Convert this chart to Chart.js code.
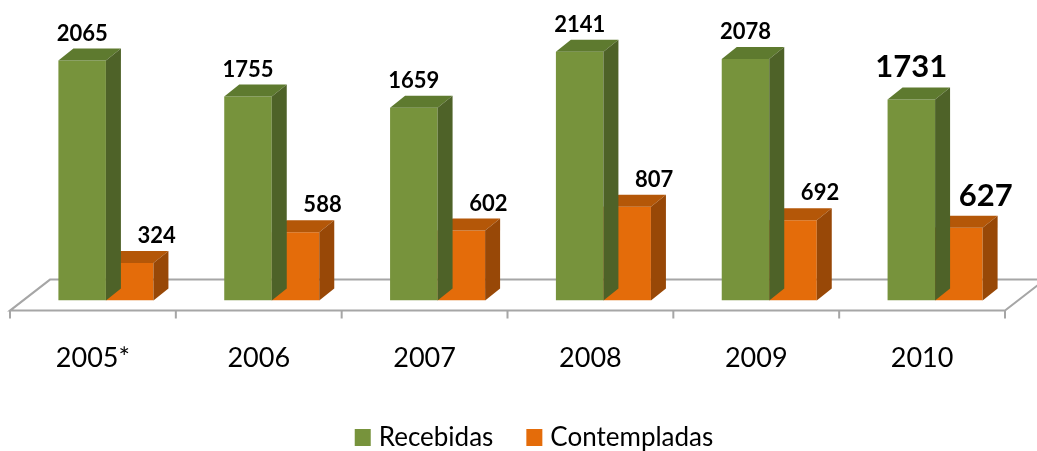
<!DOCTYPE html>
<html>
<head>
<meta charset="utf-8">
<script src="https://cdn.jsdelivr.net/npm/chart.js@4.4.1/dist/chart.umd.min.js"></script>
<style>
  html, body { margin: 0; padding: 0; background: #ffffff; }
  #wrap { position: relative; width: 1037px; height: 451px; }
</style>
</head>
<body>
<div id="wrap"><canvas id="chart"></canvas></div>
<script>
// ===================================
// DATA
// ===================================
const years = ['2005*', '2006', '2007', '2008', '2009', '2010'];
const recebidas = [2065, 1755, 1659, 2141, 2078, 1731];
const contempladas = [324, 588, 602, 807, 692, 627];
const seriesNames = ['Recebidas', 'Contempladas'];

// colours: front, top, side
const greenFaces = ['#77933c', '#5e7a2f', '#4e6228'];
const orangeFaces = ['#e46c0a', '#b45708', '#984807'];

// 3D look
const depthX = 15;
const depthY = 12;
const bigLabelIndex = 5; // 2010 labels are drawn larger
const fontFamily = 'Lato, "Open Sans", sans-serif';

function fillPoly(ctx, pts, color) {
    ctx.beginPath();
    ctx.moveTo(pts[0][0], pts[0][1]);
    for (let i = 1; i < pts.length; i++) ctx.lineTo(pts[i][0], pts[i][1]);
    ctx.closePath();
    ctx.fillStyle = color;
    ctx.fill();
}

// ===================================
// PLUGIN: floor, bar sides, labels, legend
// ===================================
const bars3d = {
    id: 'bars3d',
    beforeDatasetsDraw(chart) {
        const ctx = chart.ctx;
        const area = chart.chartArea;
        const y0 = chart.scales.y.getPixelForValue(0);
        const shift = -13;
        const front = y0 + 10, back = y0 - 21;
        const left = area.left + shift, right = area.right + shift;
        ctx.save();
        ctx.strokeStyle = '#a6a6a6';
        ctx.lineWidth = 2;
        ctx.beginPath();
        ctx.moveTo(left, front);
        ctx.lineTo(right, front);
        ctx.lineTo(right + 40, back);
        ctx.lineTo(left + 40, back);
        ctx.closePath();
        ctx.stroke();
        // tick marks on the front edge
        const step = (area.right - area.left) / years.length;
        ctx.beginPath();
        for (let i = 0; i <= years.length; i++) {
            const tx = left + i * step;
            ctx.moveTo(tx, front);
            ctx.lineTo(tx, front + 8);
        }
        ctx.stroke();
        ctx.restore();
    },
    afterDatasetDraw(chart, args) {
        const ctx = chart.ctx;
        const faces = args.index === 0 ? greenFaces : orangeFaces;
        ctx.save();
        args.meta.data.forEach(bar => {
            const p = bar.getProps(['x', 'y', 'base', 'width'], true);
            const x0 = p.x - p.width / 2, x1 = p.x + p.width / 2;
            // top face
            fillPoly(ctx, [[x0, p.y], [x1, p.y], [x1 + depthX, p.y - depthY], [x0 + depthX, p.y - depthY]], faces[1]);
            // side face
            fillPoly(ctx, [[x1, p.y], [x1 + depthX, p.y - depthY], [x1 + depthX, p.base - depthY], [x1, p.base]], faces[2]);
        });
        ctx.restore();
    },
    afterDatasetsDraw(chart) {
        const ctx = chart.ctx;
        ctx.save();
        ctx.fillStyle = '#000000';
        ctx.textAlign = 'center';
        ctx.textBaseline = 'alphabetic';
        chart.data.datasets.forEach((ds, di) => {
            const meta = chart.getDatasetMeta(di);
            meta.data.forEach((bar, i) => {
                const big = i === bigLabelIndex;
                ctx.font = 'bold ' + (big ? 31 : 22) + 'px ' + fontFamily;
                const lx = di === 0 ? bar.x : bar.x + 27;
                const ly = bar.y - depthY - (big ? 10 : 8);
                ctx.fillText(String(ds.data[i]), lx, ly);
            });
        });
        ctx.restore();
    },
    afterDraw(chart) {
        // legend
        const ctx = chart.ctx;
        ctx.save();
        ctx.font = '26px ' + fontFamily;
        ctx.textBaseline = 'alphabetic';
        ctx.textAlign = 'left';
        const box = 17, gapText = 7, gapItem = 33;
        const widths = seriesNames.map(n => ctx.measureText(n).width);
        const total = widths.reduce((s, w) => s + box + gapText + w, 0) + gapItem;
        let x = 534 - total / 2;
        const colors = [greenFaces[0], orangeFaces[0]];
        seriesNames.forEach((name, i) => {
            ctx.fillStyle = colors[i];
            ctx.fillRect(x, 429, box - 1, box);
            ctx.fillStyle = '#000000';
            ctx.fillText(name, x + box + gapText, 446);
            x += box + gapText + widths[i] + gapItem;
        });
        ctx.restore();
    }
};

// ===================================
// CHART
// ===================================
new Chart(document.getElementById('chart'), {
    type: 'bar',
    data: {
        labels: years,
        datasets: [
            {
                label: seriesNames[0],
                data: recebidas,
                backgroundColor: greenFaces[0],
                borderWidth: 0,
                categoryPercentage: 0.573,
                barPercentage: 1.0
            },
            {
                label: seriesNames[1],
                data: contempladas,
                backgroundColor: orangeFaces[0],
                borderWidth: 0,
                categoryPercentage: 0.573,
                barPercentage: 1.0
            }
        ]
    },
    options: {
        responsive: true,
        maintainAspectRatio: false,
        animation: false,
        layout: {
            padding: { left: 23, right: 19, top: 10, bottom: 36 }
        },
        plugins: {
            legend: { display: false },
            tooltip: { enabled: false }
        },
        scales: {
            x: {
                grid: { display: false, drawTicks: false },
                border: { display: false },
                ticks: {
                    color: '#000000',
                    font: { family: fontFamily, size: 27 },
                    padding: 41,
                    labelOffset: -13,
                    autoSkip: false,
                    maxRotation: 0
                }
            },
            y: {
                display: false,
                min: 0,
                max: 2500
            }
        }
    },
    plugins: [bars3d]
});
</script>
</body>
</html>
